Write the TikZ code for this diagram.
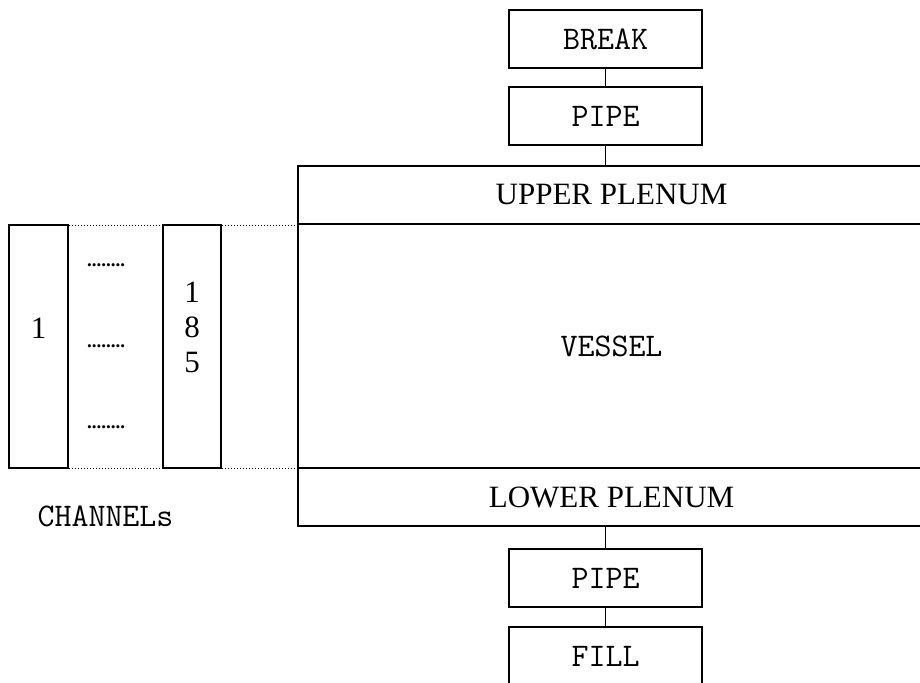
\documentclass[tikz,border=0pt]{standalone}
\usepackage{fontspec}
\setmainfont{Liberation Serif}
\begin{document}
\begin{tikzpicture}[x=1pt,y=-1pt,
  box/.style={draw,line width=1.4pt,inner sep=0pt},
  lbl/.style={font=\fontsize{31}{35}\selectfont},
  mono/.style={font=\fontsize{33}{35}\selectfont\ttfamily},
  dots/.style={font=\fontsize{19}{19}\selectfont\bfseries,anchor=base,inner sep=0pt},
  link/.style={line width=1.4pt},
  guide/.style={line width=1pt,dash pattern=on 1pt off 2pt}]
\useasboundingbox (0,0) rectangle (920,682);
% pipe chain, top
\node[box,mono,minimum width=193pt,minimum height=58pt] (break) at (605.5,39) {BREAK};
\node[box,mono,minimum width=193pt,minimum height=58pt] (pipeA) at (605.5,116) {PIPE};
% vessel
\node[box,lbl,minimum width=627pt,minimum height=58pt] (upper) at (611.5,195) {UPPER PLENUM};
\node[box,mono,minimum width=627pt,minimum height=244pt] (vessel) at (611.5,346) {VESSEL};
\node[box,lbl,minimum width=627pt,minimum height=58pt] (lower) at (611.5,497) {LOWER PLENUM};
% pipe chain, bottom
\node[box,mono,minimum width=193pt,minimum height=58pt] (pipeB) at (605.5,578) {PIPE};
\node[box,mono,minimum width=193pt,minimum height=59pt] (fill) at (605.5,656.5) {FILL};
% channels
\draw[guide] (9,225) coordinate (gt) -- (298,225) coordinate (gtv);
\draw[guide] (9,468) coordinate (gb) -- (298,468) coordinate (gbv);
\node[box,fill=white,minimum width=59pt,minimum height=243pt] (chanA) at (38.5,346.5) {};
\node[box,fill=white,minimum width=58pt,minimum height=243pt] (chanB) at (192,346.5) {};
\node[lbl,anchor=base,inner sep=0pt] (chanAtxt) at (38.5,338) {1};
\node[lbl,anchor=base,inner sep=0pt,align=center] (chanBtxt) at (192,372) {1\\8\\5};
\node[dots] (dotsA) at (106,266) {........};
\node[dots] (dotsB) at (106,347) {........};
\node[dots] (dotsC) at (106,428) {........};
\node[mono,anchor=base,inner sep=0pt] (chlabel) at (105.5,526) {CHANNELs};
% connectors
\draw[link] (break.south) -- (pipeA.north);
\draw[link] (pipeA.south) -- (pipeA.south |- upper.north);
\draw[link] (pipeB.north |- lower.south) -- (pipeB.north);
\draw[link] (pipeB.south) -- (fill.north);
\end{tikzpicture}
\end{document}
